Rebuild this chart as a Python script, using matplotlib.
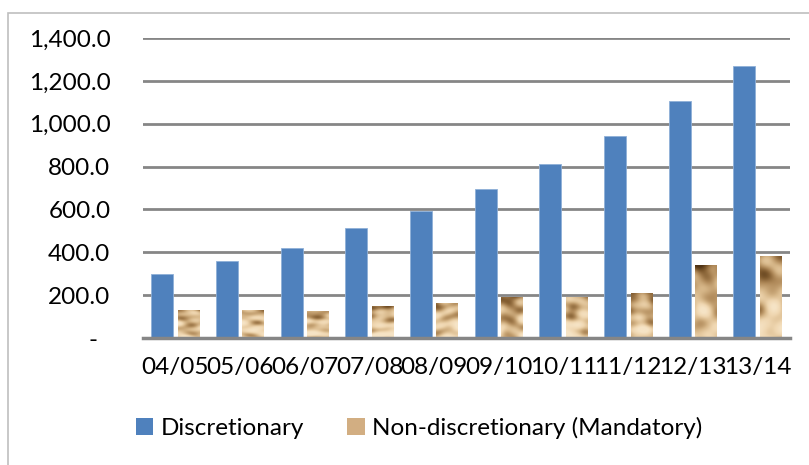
import matplotlib.pyplot as plt
import numpy as np
from matplotlib.colors import LinearSegmentedColormap
from matplotlib.patches import Patch, Rectangle

years = ["04/05", "05/06", "06/07", "07/08", "08/09",
         "09/10", "10/11", "11/12", "12/13", "13/14"]
discretionary = [297, 359, 418, 513, 595, 695, 812, 943, 1108, 1267]
mandatory = [133, 133, 128, 151, 165, 190, 190, 208, 343, 381]

plt.rcParams['font.family'] = ['Lato', 'DejaVu Sans']

fig = plt.figure(figsize=(8.09, 4.65), dpi=100)
ax = fig.add_axes([0.1768, 0.2731, 0.7997, 0.6452])

x = np.arange(len(years))
w = 0.34
off = 0.205

ax.bar(x - off, discretionary, w, color='#4F81BD', edgecolor='#8FB0D8',
       linewidth=0.6, zorder=3, label='Discretionary')
tan_bars = ax.bar(x + off, mandatory, w, color='#D9B98F', linewidth=0,
                  zorder=3)

# sandy texture for the mandatory bars
sand = LinearSegmentedColormap.from_list(
    'sand', ['#4E3214', '#7F5A2E', '#B08A5A', '#D6B688', '#EFD6B0', '#F6E4C6'])
yy, xx = np.mgrid[0:80, 0:24].astype(float)
angles = [0.3, 1.1, 1.9, 2.6, 0.7, 2.2, 1.5]
freqs = [0.22, 0.19, 0.3, 0.15, 0.35, 0.24, 0.12]
for i, bar in enumerate(tan_bars):
    h = bar.get_height()
    z = np.zeros_like(xx)
    for j, (a, f) in enumerate(zip(angles, freqs)):
        ph = (i * 2.3 + j * 1.3) % 6.28
        z += np.sin(f * (xx * np.cos(a + i * 0.4) + yy * np.sin(a + i * 0.4)) + ph) / (1 + 0.3 * j)
    z = (z - z.min()) / (z.max() - z.min())
    # darker towards the bottom, more so on taller bars
    depth = (yy / 79.0) ** 1.5 * min(1.0, h / 250.0)
    z = np.clip(z * 0.75 + 0.4 - depth * 0.5, 0, 1)
    x0 = bar.get_x()
    im = ax.imshow(z[::-1], cmap=sand, vmin=0, vmax=1, aspect='auto',
                   extent=(x0, x0 + bar.get_width(), 0, h), zorder=4,
                   interpolation='bicubic')
    im.set_clip_path(bar)

ax.set_xlim(-0.5, len(years) - 0.5)
ax.set_ylim(0, 1400)
ax.set_yticks(np.arange(0, 1401, 200))
ax.set_yticklabels(['-  '] + [f"{v:,.1f}" for v in range(200, 1401, 200)])
ax.set_xticks(x)
ax.set_xticklabels(years)
ax.grid(axis='y', color='#868686', linewidth=2, zorder=0)
ax.tick_params(axis='both', length=0, labelsize=17.5, colors='black')
ax.tick_params(axis='x', pad=14)
ax.tick_params(axis='y', pad=23.5)
for s in ['top', 'right', 'left']:
    ax.spines[s].set_visible(False)
ax.spines['bottom'].set_color('#868686')
ax.spines['bottom'].set_linewidth(2.5)
ax.spines['bottom'].set_zorder(5)

handles = [Patch(facecolor='#4F81BD'),
           Patch(facecolor='#D2AE82')]
fig.legend(handles, ['Discretionary', 'Non-discretionary (Mandatory)'],
           loc='center', bbox_to_anchor=(0.518, 0.079), ncol=2, frameon=False,
           fontsize=17.5, handlelength=0.7, handleheight=0.7,
           handletextpad=0.3, columnspacing=1.8)

# outer chart frame
fig.patches.append(Rectangle((8 / 809, -0.1), 1.2, 1 - 13 / 465 + 0.1,
                             transform=fig.transFigure, fill=False,
                             edgecolor='#BFBFBF', linewidth=1.2))

fig.savefig('out.png', dpi=100)
